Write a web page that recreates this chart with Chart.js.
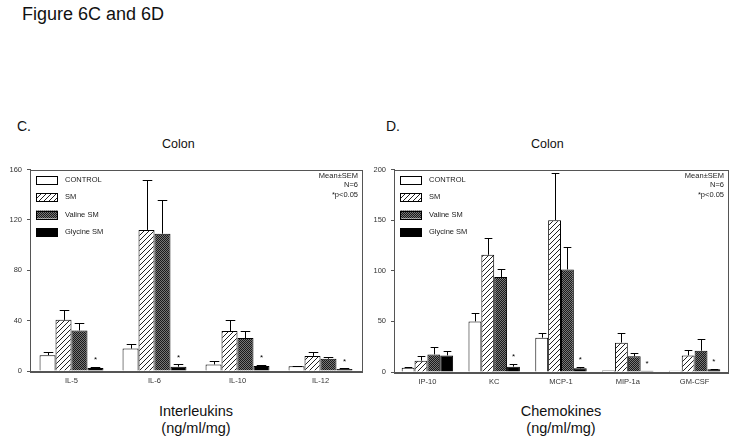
<!DOCTYPE html>
<html>
<head>
<meta charset="utf-8">
<script src="https://cdn.jsdelivr.net/npm/chart.js@4.4.1/dist/chart.umd.min.js"></script>
<style>
  body { margin: 0; background: #fff; width: 738px; height: 445px; position: relative; overflow: hidden;
         font-family: "Liberation Sans", Arial, sans-serif; color: #111; }
  .t { position: absolute; white-space: nowrap; }
  canvas { position: absolute; }
</style>
</head>
<body>
<div class="t" style="left:22px;top:4px;font-size:18px;">Figure 6C and 6D</div>
<div class="t" style="left:17px;top:118px;font-size:14px;">C.</div>
<div class="t" style="left:386px;top:118px;font-size:14px;">D.</div>
<div class="t" style="left:162px;top:137px;font-size:12.5px;">Colon</div>
<div class="t" style="left:531px;top:137px;font-size:12.5px;">Colon</div>
<div class="t" style="left:126px;top:403px;width:140px;text-align:center;font-size:14.5px;line-height:17px;">Interleukins<br>(ng/ml/mg)</div>
<div class="t" style="left:491px;top:403px;width:140px;text-align:center;font-size:14.5px;line-height:17px;">Chemokines<br>(ng/ml/mg)</div>

<canvas id="chartC" width="369" height="235" style="left:0;top:160px;"></canvas>
<canvas id="chartD" width="369" height="235" style="left:369px;top:160px;"></canvas>

<script>
// groups / legend
const groups = ["CONTROL", "SM", "Valine SM", "Glycine SM"];

// panel C - interleukins
const ilLabels = ["IL-5", "IL-6", "IL-10", "IL-12"];
const ilControl = [12.6, 17.8, 5.2, 3.7];
const ilSM = [40.6, 112, 31.7, 12];
const ilValine = [32.2, 109, 26.2, 9.7];
const ilGlycine = [2.4, 3.4, 3.9, 1.6];
const ilControlErr = [2.1, 3.4, 2.9, 0.5];
const ilSMErr = [8.1, 40, 8.9, 2.7];
const ilValineErr = [5.8, 26.6, 5.7, 1.6];
const ilGlycineErr = [0.7, 1.8, 0.8, 0.5];
const ilStar = [true, true, true, true];
const ilTicks = [0, 40, 80, 120, 160];

// panel D - chemokines
const ckLabels = ["IP-10", "KC", "MCP-1", "MIP-1a", "GM-CSF"];
const ckControl = [4.3, 50, 33.9, 1.6, 1.3];
const ckSM = [11.2, 115.8, 150, 29, 16.4];
const ckValine = [17.4, 93.8, 101.3, 15.5, 21];
const ckGlycine = [16.4, 5.3, 3.6, 1.3, 2.6];
const ckControlErr = [0.4, 7.9, 4.6, 0, 0];
const ckSMErr = [4.3, 16.8, 46.7, 9.8, 5.6];
const ckValineErr = [7.6, 8.2, 22.4, 3.5, 11.9];
const ckGlycineErr = [4, 2.9, 1.7, 0, 0.7];
const ckStar = [false, true, true, true, true];
const ckTicks = [0, 50, 100, 150, 200];

const FONT = "'Liberation Sans', Arial, sans-serif";

function makePattern(kind) {
  const c = document.createElement("canvas");
  const g = c.getContext("2d");
  if (kind == "hatch") {
    c.width = 5; c.height = 5;
    g.fillStyle = "#fff";
    g.fillRect(0, 0, 5, 5);
    g.strokeStyle = "#222";
    g.lineWidth = 1;
    g.beginPath();
    g.moveTo(-1, 6); g.lineTo(6, -1);
    g.moveTo(-1, 1); g.lineTo(1, -1);
    g.moveTo(4, 6); g.lineTo(6, 4);
    g.stroke();
  } else {
    c.width = 2; c.height = 2;
    g.fillStyle = "#777";
    g.fillRect(0, 0, 2, 2);
    g.fillStyle = "#1a1a1a";
    g.fillRect(0, 0, 1, 1);
    g.fillRect(1, 1, 1, 1);
  }
  return g.createPattern(c, "repeat");
}

const fills = ["#fff", makePattern("hatch"), makePattern("check"), "#000"];

// frame, error bars, asterisks, legend and stats text
const extras = {
  id: "extras",
  afterDatasetsDraw(chart) {
    const ctx = chart.ctx;
    const yS = chart.scales.y;
    const a = chart.chartArea;
    ctx.save();
    ctx.strokeStyle = "#000";
    ctx.lineWidth = 1;
    chart.data.datasets.forEach((ds, di) => {
      const meta = chart.getDatasetMeta(di);
      meta.data.forEach((bar, i) => {
        const err = ds.errors[i];
        const x = Math.round(bar.x) + 0.5;
        const top = yS.getPixelForValue(ds.data[i] + err);
        if (err > 0) {
          const cap = bar.width * 0.3;
          ctx.beginPath();
          ctx.moveTo(x, bar.y);
          ctx.lineTo(x, Math.round(top) + 0.5);
          ctx.moveTo(x - cap, Math.round(top) + 0.5);
          ctx.lineTo(x + cap, Math.round(top) + 0.5);
          ctx.stroke();
        }
        if (ds.stars && ds.stars[i]) {
          ctx.fillStyle = "#000";
          ctx.font = "8px " + FONT;
          ctx.textAlign = "center";
          ctx.textBaseline = "middle";
          ctx.fillText("*", bar.x, top - 7);
        }
      });
    });
    // frame
    ctx.strokeStyle = "#555";
    ctx.strokeRect(Math.round(a.left) + 0.5, Math.round(a.top) + 0.5,
      Math.round(a.right - a.left), Math.round(a.bottom - a.top));
    // legend
    ctx.font = "7.5px " + FONT;
    ctx.textAlign = "left";
    ctx.textBaseline = "middle";
    groups.forEach((name, i) => {
      const y = a.top + 10 + i * 17.5;
      ctx.fillStyle = fills[i];
      ctx.fillRect(a.left + 6, y - 4, 22, 8);
      ctx.strokeStyle = "#000";
      ctx.strokeRect(a.left + 6.5, Math.round(y - 4) + 0.5, 21, 8);
      ctx.fillStyle = "#222";
      ctx.fillText(name, a.left + 35, y);
    });
    // stats
    ctx.textAlign = "right";
    ["Mean\u00b1SEM", "N=6", "*p<0.05"].forEach((s, i) => {
      ctx.fillText(s, a.right - 4, a.top + 6 + i * 9.5);
    });
    ctx.restore();
  }
};

function makeChart(id, labels, vals, errs, stars, ticks, yWidth, padRight, padTop, xHeight) {
  const datasets = groups.map((g, i) => ({
    label: g,
    data: vals[i],
    errors: errs[i],
    stars: i == 3 ? stars : null,
    backgroundColor: fills[i],
    borderColor: "#000",
    borderWidth: 1,
    categoryPercentage: 0.77,
    barPercentage: 1.0,
  }));
  return new Chart(document.getElementById(id), {
    type: "bar",
    data: { labels: labels, datasets: datasets },
    options: {
      responsive: false,
      animation: false,
      devicePixelRatio: 1,
      layout: { padding: { top: padTop, right: padRight, left: 0, bottom: 0 } },
      plugins: { legend: { display: false }, tooltip: { enabled: false } },
      scales: {
        x: {
          grid: { display: false, drawTicks: false },
          border: { color: "#555" },
          ticks: { color: "#333", font: { size: 7.5, family: FONT }, padding: 5 },
          afterFit: (s) => { s.height = xHeight; },
        },
        y: {
          min: ticks[0],
          max: ticks[ticks.length - 1],
          afterBuildTicks: (s) => { s.ticks = ticks.map((v) => ({ value: v })); },
          grid: { drawOnChartArea: false, tickLength: 3, color: "#555" },
          border: { color: "#555" },
          ticks: { color: "#333", font: { size: 7.5, family: FONT }, padding: 5 },
          afterFit: (s) => { s.width = yWidth; },
        },
      },
    },
    plugins: [extras],
  });
}

makeChart("chartC", ilLabels,
  [ilControl, ilSM, ilValine, ilGlycine],
  [ilControlErr, ilSMErr, ilValineErr, ilGlycineErr],
  ilStar, ilTicks, 30, 7, 7, 24);

makeChart("chartD", ckLabels,
  [ckControl, ckSM, ckValine, ckGlycine],
  [ckControlErr, ckSMErr, ckValineErr, ckGlycineErr],
  ckStar, ckTicks, 25, 10, 8, 23);
</script>
</body>
</html>
